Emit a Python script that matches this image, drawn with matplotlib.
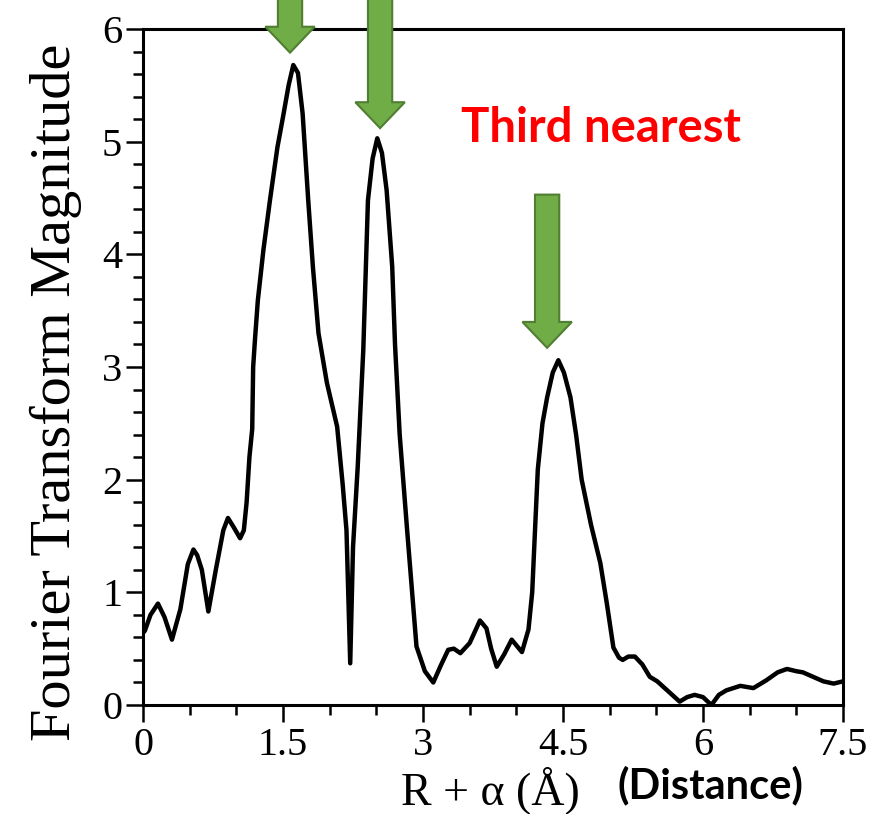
import matplotlib
matplotlib.use("Agg")
import matplotlib.pyplot as plt
from matplotlib.patches import FancyArrow
from matplotlib.ticker import MultipleLocator

# radial distance R + alpha (angstrom) and FT magnitude
r_vals = [0.00, 0.02, 0.08, 0.16, 0.23, 0.31, 0.40, 0.48, 0.54, 0.58, 0.63, 0.70,
          0.78, 0.86, 0.91, 0.97, 1.04, 1.08, 1.11, 1.14, 1.17, 1.18, 1.20, 1.23,
          1.29, 1.36, 1.44, 1.50, 1.56, 1.61, 1.66, 1.71, 1.77, 1.82, 1.88, 1.97,
          2.08, 2.14, 2.18, 2.22, 2.25, 2.30, 2.36, 2.41, 2.46, 2.51, 2.56,
          2.61, 2.67, 2.70, 2.75, 2.83, 2.93, 3.02, 3.11, 3.19, 3.27, 3.33, 3.40,
          3.50, 3.61, 3.68, 3.73, 3.79, 3.87, 3.95, 4.06, 4.13, 4.17, 4.20, 4.23,
          4.28, 4.33, 4.39, 4.45, 4.51, 4.58, 4.64, 4.70, 4.80, 4.90, 4.97, 5.04,
          5.10, 5.14, 5.20, 5.27, 5.35, 5.43, 5.51, 5.63, 5.75, 5.83, 5.91, 6.00,
          6.09, 6.17, 6.25, 6.40, 6.54, 6.68, 6.80, 6.90, 7.00, 7.07, 7.18, 7.29,
          7.40, 7.50]
ft_mag = [0.64, 0.66, 0.80, 0.90, 0.78, 0.58, 0.85, 1.25, 1.38, 1.33, 1.20, 0.83,
          1.20, 1.55, 1.66, 1.58, 1.48, 1.55, 1.80, 2.20, 2.45, 3.00, 3.25, 3.59,
          4.04, 4.48, 4.95, 5.22, 5.50, 5.68, 5.61, 5.25, 4.48, 3.89, 3.30, 2.86,
          2.47, 1.95, 1.55, 0.37, 1.40, 2.11, 3.15, 4.48, 4.85, 5.03, 4.90,
          4.57, 3.89, 3.20, 2.40, 1.55, 0.52, 0.30, 0.20, 0.35, 0.49, 0.50, 0.46,
          0.55, 0.75, 0.68, 0.50, 0.34, 0.45, 0.58, 0.47, 0.67, 1.00, 1.55, 2.09,
          2.50, 2.73, 2.95, 3.06, 2.95, 2.73, 2.40, 2.00, 1.60, 1.26, 0.90, 0.51,
          0.42, 0.40, 0.43, 0.43, 0.36, 0.25, 0.21, 0.12, 0.03, 0.07, 0.09, 0.07,
          0.00, 0.09, 0.13, 0.17, 0.15, 0.22, 0.29, 0.32, 0.30, 0.29, 0.25, 0.21,
          0.19, 0.21]

# annotation arrows: (x, tip y, tail y)
arrow_x = [1.575, 2.54, 4.33]
arrow_tip = [5.79, 5.12, 3.17]
arrow_tail = [6.5, 6.5, 4.53]

serif = "Liberation Serif"

fig = plt.figure(figsize=(8.84, 8.14), dpi=100)
ax = fig.add_axes([0.1618, 0.1339, 0.7918, 0.8305])

ax.plot(r_vals, ft_mag, color="black", lw=3.2, solid_joinstyle="round",
        solid_capstyle="round")

ax.set_xlim(0, 7.5)
ax.set_ylim(0, 6)
ax.xaxis.set_minor_locator(MultipleLocator(0.5))
ax.yaxis.set_major_locator(MultipleLocator(1))
ax.yaxis.set_minor_locator(MultipleLocator(0.2))
ax.set_xticks([0, 1.5, 3, 4.5, 6, 7.5])
ax.set_xticklabels(["0", "1.5", "3", "4.5", "6", "7.5"])

ax.tick_params(which="major", direction="out", length=12, width=1.8,
               labelsize=29, pad=3)
ax.tick_params(which="minor", direction="out", length=7, width=1.8)
ax.tick_params(axis="x", which="major", pad=4)
for lab in ax.get_xticklabels() + ax.get_yticklabels():
    lab.set_fontfamily(serif)
for sp in ax.spines.values():
    sp.set_linewidth(2.2)

fig.text(56 / 884, 0.518, "Fourier Transform Magnitude", rotation=90,
         ha="center", va="center", fontsize=42, family=serif)
fig.text(490 / 884, 1 - 790 / 814, "R + \u03b1 (\u00c5)", ha="center", va="center",
         fontsize=33, family=serif)
fig.text(710 / 884, 1 - 785 / 814, "(Distance)", ha="center", va="center",
         fontsize=30, fontweight="bold", family="Lato", color="black")
fig.text(601 / 884, 1 - 128 / 814, "Third nearest", ha="center", va="center",
         fontsize=34, fontweight="bold", family="Lato", color="#ff0000")

for x, tip, tail in zip(arrow_x, arrow_tip, arrow_tail):
    arr = FancyArrow(x, tail, 0, tip - tail, width=0.26, head_width=0.53,
                     head_length=0.23, length_includes_head=True,
                     facecolor="#70ad47", edgecolor="#507e32", lw=1.5,
                     clip_on=False, zorder=5)
    ax.add_patch(arr)

fig.savefig("out.png", dpi=100)
